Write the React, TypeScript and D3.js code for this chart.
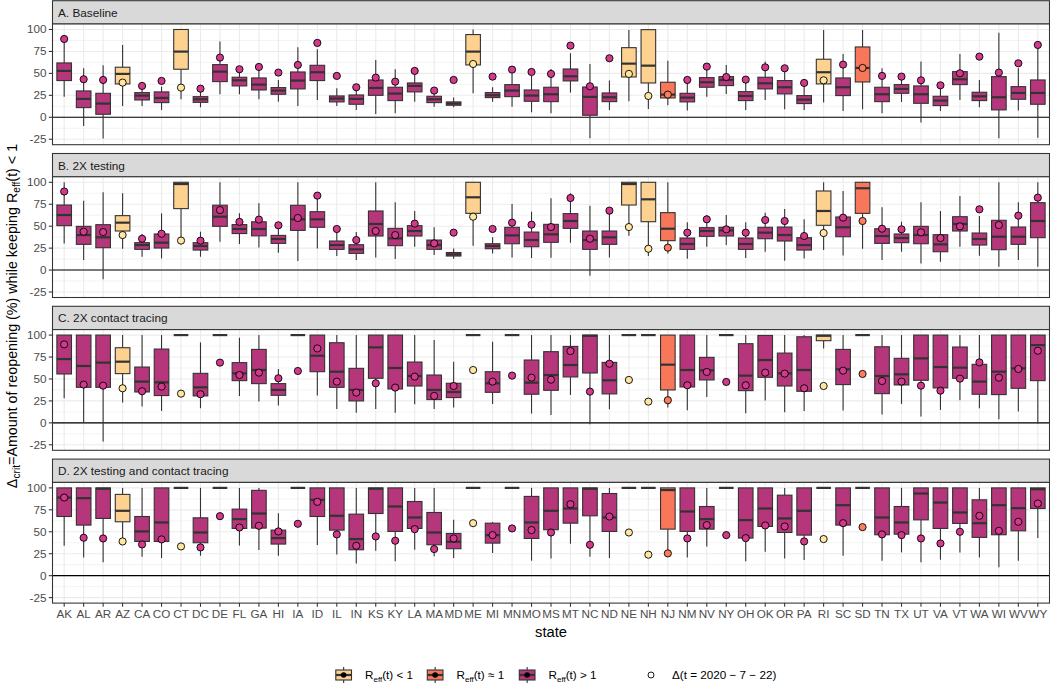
import React from "react";
import * as d3 from "d3";

const STATES = ["AK","AL","AR","AZ","CA","CO","CT","DC","DE","FL","GA","HI","IA","ID","IL","IN","KS","KY","LA","MA","MD","ME","MI","MN","MO","MS","MT","NC","ND","NE","NH","NJ","NM","NV","NY","OH","OK","OR","PA","RI","SC","SD","TN","TX","UT","VA","VT","WA","WI","WV","WY"];
const LOW_STATES = ["AZ","CT","ME","NE","NH","RI"];   // Reff(t) < 1
const NEAR_STATES = ["NJ","SD"];                        // Reff(t) ≈ 1
const PANEL_TITLES = ["A. Baseline","B. 2X testing","C. 2X contact tracing","D. 2X testing and contact tracing"];
const Y_TICKS = [-25,0,25,50,75,100];
const Y_MINOR = [-12.5,12.5,37.5,62.5,87.5];

// each row: [whisker low, q1, median, q3, whisker high, Δ(t=2020-7-22)]
const baseline = [
[23.5,41.8,52.8,61.9,88,89.2],[-9.9,11,20.9,30,55.8,43.3],[-24.3,3.4,15.6,27.3,59.2,42.5],[12.9,38,49.4,57,82.4,39.5],
[12.9,19.7,24.7,28.1,33,35.7],[8.4,16.7,22,28.9,35,41.4],[20.5,54.7,74.8,100,100,33.8],[11.4,17,20.5,23.5,29.6,32.6],
[26.2,40.6,52,60,86.2,68],[26.2,35.7,42.1,45.6,54.7,54.7],[20.5,31.1,37.2,44.8,57.7,57.3],[17.8,26.2,30.4,33.8,42.5,50.9],
[12.9,32.3,41.8,51.6,79.7,59.6],[19.7,41.8,51.3,59.2,77.4,84.7],[12.9,17.5,21.3,24.3,33,47.1],[8.4,14.8,20.9,25.4,36.8,34.2],
[3.8,25,33.4,42.5,65.3,45.2],[4.6,19,27,34.2,54.7,40.6],[17.8,28.9,35.7,39.1,52,52.8],[12.1,16.7,20.5,23.9,31.1,30.4],
[11.4,13.7,15.6,17.5,22.4,42.5],[27.3,59.6,74.8,94.2,100,60.7],[17.8,22.4,25,28.1,34.2,46.3],[12.1,23.5,30.4,37.2,50.1,54.3],
[5.7,18.2,24.7,31.1,47.1,51.6],[4.6,17.8,26.2,34.2,55,49.4],[28.1,41.4,46.7,55,72.9,81.6],[-23.9,2.3,23.2,34.5,60.7,35.3],
[8.4,17.8,22.8,27.7,41.8,67.2],[18.2,45.9,61.1,79.3,99.5,49.4],[9.5,39.1,58.8,99.8,100,24.3],[13.7,22,25.8,39.9,64.5,25.8],
[7.6,17.5,22.4,27.3,42.5,42.5],[23.5,34.2,39.9,45.2,59.6,57.7],[26.6,36.1,42.5,46.3,59.6,45.9],[8.4,19,24.3,29.2,42.5,42.9],
[19.7,32.3,38.7,45.6,63.4,56.9],[9.1,26.6,34.2,41.8,55.8,55.8],[8.4,15.6,20.1,24.7,39.5,39.1],[16.7,38,51.3,66.1,99.5,42.1],
[7.2,24.7,34.2,44.8,72.1,60],[9.1,40.2,56.2,80.1,99.5,56.2],[4.6,17.8,26.2,34.2,55.8,47.1],[17.5,27.3,32.3,37.2,48.2,46.3],
[-6.1,15.9,26.2,35.7,63.4,42.1],[7.2,13.3,19,23.9,35,36.4],[19.7,37.2,43.3,52,72.1,50.1],[11.4,19,23.9,28.5,42.5,69.1],
[-23.9,8.4,22.8,46.3,96.4,50.9],[7.6,20.5,27.7,34.9,55.8,61.5],[-23.2,14.8,27.7,42.5,82.4,82.4]];

const testing2x = [
[30.4,50.6,62.7,74.1,100,89.5],[11.4,29.3,39.9,49.8,79.1,43.7],[-10.6,25.5,37.3,51.7,88.6,43.3],[24.3,44.5,54,62,87.5,39.9],
[15.2,23.6,28.5,31.2,41.1,35.7],[13.3,25.1,31.2,41.1,64.6,41.4],[29,70,98,100,100,33.6],[15.2,22.8,27.4,31.2,43.7,33.5],
[32.3,49.8,60.8,73.9,100,68.3],[29.7,41.6,46.8,51.8,64.6,54.9],[25.8,39,46.8,55,76,57.5],[19.8,30.4,35.4,39.5,48.3,51],
[10.3,45.2,57.8,73.8,100,59.3],[24.7,48.7,57.8,66.5,87.5,84.8],[16,23.6,28.5,33.1,43.7,46.8],[11.4,19,23.6,28.9,43.3,34.2],
[14.4,38.8,52.5,67.3,100,44.5],[12.5,27.8,36.1,47.5,77.2,39.9],[26.6,38.8,44.5,50.6,67.3,52.9],[17.1,23.6,28.5,34.2,48.7,30.4],
[12.9,16,17.9,20,24.7,42.6],[27.8,64.6,82.9,100,100,60.8],[19,24.3,27.4,30,37.3,46.8],[14.4,30,39.5,48.7,75.3,54],
[13.7,26.6,34.2,43.3,66.5,51.7],[14.1,31.6,40.7,52.1,81.7,49],[31.2,47.5,55.9,64.3,87.5,82.1],[-6.5,23.6,34.2,44.5,73.4,35.7],
[14.4,29.3,37.3,44.5,67.3,67.7],[39.2,74.1,98,100,100,49],[16,55.1,80.6,100,100,24.3],[19,33.5,47.1,65.4,100,25.5],
[12.9,23.6,29.7,36.5,54.4,42.6],[26.6,38.4,44.5,48.3,62.7,57.8],[28.5,38.8,45.2,48.7,62.7,46.4],[13.7,23.6,29.7,36.5,54.4,42.6],
[20.9,35.7,42.6,48.7,65.4,57],[10.6,33.1,39.9,49,69.6,55.9],[13.3,22.8,28.5,36.9,57.8,38.8],[22.8,51,67.3,90.1,100,42.2],
[16.7,38,48.7,60.5,90.1,59.7],[24.3,64.6,93.2,100,100,55.9],[11.4,30.4,38.8,47.1,71.5,47.1],[20.9,31.2,36.5,41.1,55.1,46.4],
[7.6,30,39.9,49.8,77.2,43],[9.5,20.9,29.3,40.3,67.3,36.5],[26.6,44.5,52.5,60.8,84.4,49.8],[16.3,28.5,35.4,42.2,61.6,69.2],
[3.8,23.2,38,56.7,100,51.3],[11.4,29.3,38,49,77.2,62],[3.8,36.9,55.9,76.8,100,82.5]];

const tracing2x = [
[28,55.7,72.7,100,100,89.4],[0.8,40.5,64.8,100,100,43.6],[-21.2,40.5,68.6,100,100,42.4],[23.1,56.1,69.7,85.6,100,39.4],
[18.6,35.2,47,63.6,100,36],[13.6,31.1,46.2,84.1,100,41.3],[100,100,100,100,100,33.3],[16.7,30.7,40.5,56.4,91.7,32.6],
[100,100,100,100,100,68.6],[30.7,48.1,56.4,68.6,97,54.5],[24.2,44.7,60.2,83.7,100,57.2],[19.7,31.4,37.5,44.7,61.4,50.8],
[100,100,100,100,100,59.1],[31.1,58.3,76.5,100,100,84.8],[15.9,40.5,58.3,91.3,100,47],[11.4,25,37.5,62.1,100,34.5],
[15.9,50.8,86,100,100,45.1],[11.4,38.6,62.5,100,100,40.2],[21.2,42,53.4,69.3,100,52.7],[15.9,26.5,37.5,54.5,94.3,30.7],
[17.4,28.8,35.2,45.1,69.7,42],[100,100,100,100,100,60.2],[21.6,34.8,45.1,58.3,92.4,47],[100,100,100,100,100,53.8],
[10.6,32.6,45.8,71.6,100,51.5],[9.1,37.1,54.5,81.1,100,49.2],[31.8,52.3,65.9,87.1,100,81.8],[-1.5,56.8,99.2,100,100,35.6],
[15.5,33,48.5,68.9,100,67.4],[100,100,100,100,100,48.9],[100,100,100,100,100,24.2],[17.4,37.5,66.3,100,100,25.8],
[14.4,40.9,60.2,100,100,42.8],[29.5,48.9,59.8,74.6,100,58],[100,100,100,100,100,46.6],[11,36.7,53.8,90.2,100,42.8],
[25.4,51.9,71.6,99.6,100,57.2],[12.1,42,56.4,79.5,100,56.1],[13.6,36,60.2,98.1,100,39.4],[84.8,93.6,99.2,100,100,42],
[14,43.6,61,83.7,100,59.5],[100,100,100,100,100,55.7],[9.5,33.3,53.4,86.7,100,47.7],[21.6,43.2,55.3,73.5,100,47],
[7.2,48.5,73.5,100,100,42.4],[14.8,39.8,63.6,100,100,36.7],[25.8,50.8,62.9,86.4,100,50.4],[16.7,32.6,47,66.7,100,68.9],
[4.2,32.2,58.3,100,100,51.5],[12.9,39.4,62.1,100,100,61.4],[-0.8,48.1,88.6,100,100,82.2]];

const testingTracing2x = [
[34.1,67.4,89,100,100,89],[20.8,57.6,88.3,100,100,43.2],[15.2,65.2,99,100,100,42.4],[35.2,61.4,73.9,92.6,100,39],
[21.6,39,50.4,67.4,100,35.6],[20.1,39,60.6,100,100,41.3],[100,100,100,100,100,33.3],[22.7,37.5,49.2,65.9,100,32.2],
[100,100,100,100,100,67.8],[34.5,53.8,64.4,75.8,100,54.9],[29.2,54.2,70.8,97.2,100,56.8],[22.7,36,42.8,51.9,71.2,50.4],
[100,100,100,100,100,59.1],[34.8,67.4,86.4,100,100,84.1],[24.2,51.9,68.2,100,100,47],[14,29.5,41.7,70.1,100,34.1],
[28.4,70.8,99,100,100,44.7],[16.3,50.4,78.8,100,100,39.8],[29.5,53.8,66.3,84.5,100,53],[22,35.2,49.2,72,100,30.3],
[20.1,30.7,38.6,48.1,63.6,42.4],[100,100,100,100,100,59.8],[25.8,37.1,46.2,59.8,61,46.2],[100,100,100,100,100,53.8],
[17,42.4,60.6,90.3,100,51.9],[19.7,52.3,73.9,100,100,49.2],[36.4,59.8,76.5,100,100,81.4],[21.6,68.2,99,100,100,35.2],
[20.1,50.4,66.3,93.6,100,67.4],[100,100,100,100,100,49.2],[100,100,100,100,100,23.9],[27.3,53,97.5,100,100,25.4],
[20.8,50.4,73.1,100,100,42.4],[33.3,53,64.4,78.8,100,57.6],[100,100,100,100,100,46.2],[16.3,42.8,63.3,100,100,42.8],
[27.3,56.1,76.5,100,100,57.2],[19.7,49.2,65.2,91.7,100,56.1],[17.8,46.2,73.9,100,100,39],[100,100,100,100,100,41.7],
[22.7,57.6,80.3,100,100,59.8],[100,100,100,100,100,55.3],[17,46.6,66.3,100,100,47],[26.5,47.3,60.6,78.8,100,46.2],
[15.2,63.6,93.6,100,100,42.4],[18.2,53.8,83.3,100,100,36.7],[26.5,59.5,72,100,100,50],[20.8,43.6,59.8,86.4,100,68.2],
[9.5,46.6,80.3,100,100,51.1],[17,51.1,76.9,100,100,61.4],[42.8,76.5,98.5,100,100,82.2]];

const PANELS = [baseline, testing2x, tracing2x, testingTracing2x];

const BOX_FILL = { low: "#FDD18F", near: "#F8775B", high: "#B5367A" };
const PT_FILL = { low: "#FFE7A2", near: "#FA7E5E", high: "#D43A8C" };
const FONT = "'Liberation Sans', Arial, Helvetica, sans-serif";

function statusOf(s: string) {
  if (LOW_STATES.includes(s)) return "low";
  if (NEAR_STATES.includes(s)) return "near";
  return "high";
}

const PL = 52.5, PR = 1049.5;
const PANEL_STEP = 152.8, PLOT_TOP0 = 24, PLOT_H = 120.7, STRIP_H = 23.3;
const DARK = "#333333";

export default function App() {
  const x = d3.scalePoint<string>().domain(STATES).range([PL, PR]).padding(0.6);
  const step = x.step();
  const bw = step * 0.75;

  const panels = PANELS.map((data, pi) => {
    const top = PLOT_TOP0 + pi * PANEL_STEP;
    const y = d3.scaleLinear().domain([-31.25, 106.25]).range([top + PLOT_H, top]);
    const stripTop = top - STRIP_H;
    return (
      <g key={pi}>
        <rect x={PL} y={stripTop} width={PR - PL} height={STRIP_H} fill="#D9D9D9" stroke={DARK} strokeWidth={1.07} />
        <text x={PL + 5.5} y={stripTop + 16} fontSize={11.8} fill="#1A1A1A">{PANEL_TITLES[pi]}</text>
        <rect x={PL} y={top} width={PR - PL} height={PLOT_H} fill="#fff" />
        {Y_MINOR.map(v => <line key={"m" + v} x1={PL} x2={PR} y1={y(v)} y2={y(v)} stroke="#EBEBEB" strokeWidth={0.6} />)}
        {Y_TICKS.map(v => <line key={"M" + v} x1={PL} x2={PR} y1={y(v)} y2={y(v)} stroke="#EBEBEB" strokeWidth={1.1} />)}
        {STATES.map(s => <line key={"v" + s} x1={x(s)} x2={x(s)} y1={top} y2={top + PLOT_H} stroke="#EBEBEB" strokeWidth={1.1} />)}
        <line x1={PL} x2={PR} y1={y(0)} y2={y(0)} stroke="#000" strokeWidth={1.1} />
        {Y_TICKS.map(v => (
          <g key={"t" + v}>
            <line x1={PL - 3.7} x2={PL} y1={y(v)} y2={y(v)} stroke={DARK} strokeWidth={1.07} />
            <text x={PL - 6} y={y(v) + 4} fontSize={11.7} fill="#4D4D4D" textAnchor="end">{v}</text>
          </g>
        ))}
        {STATES.map((s, i) => {
          const [lo, q1, med, q3, hi] = data[i];
          const cx = x(s) as number;
          const st = statusOf(s);
          return (
            <g key={"b" + s}>
              <line x1={cx} x2={cx} y1={y(hi)} y2={y(q3)} stroke={DARK} strokeWidth={1.1} />
              <line x1={cx} x2={cx} y1={y(q1)} y2={y(lo)} stroke={DARK} strokeWidth={1.1} />
              <rect x={cx - bw / 2} y={y(q3)} width={bw} height={Math.max(0, y(q1) - y(q3))} fill={BOX_FILL[st]} stroke={DARK} strokeWidth={1.1} />
              <line x1={cx - bw / 2} x2={cx + bw / 2} y1={y(med)} y2={y(med)} stroke={DARK} strokeWidth={2.2} />
            </g>
          );
        })}
        {STATES.map((s, i) => {
          const cx = x(s) as number;
          return <circle key={"p" + s} cx={cx} cy={y(data[i][5])} r={3.6} fill={PT_FILL[statusOf(s)]} stroke="#000" strokeWidth={0.9} />;
        })}
        <rect x={PL} y={top} width={PR - PL} height={PLOT_H} fill="none" stroke={DARK} strokeWidth={1.07} />
      </g>
    );
  });

  const bottom = PLOT_TOP0 + 3 * PANEL_STEP + PLOT_H;
  const legendY = 675;
  const legendItems = [
    { key: "low", x: 335, label: "(t) < 1" },
    { key: "near", x: 426.5, label: "(t) \u2248 1" },
    { key: "high", x: 518.5, label: "(t) > 1" },
  ];

  return (
    <svg width={1050} height={686} style={{ position: "absolute", left: 0, top: 0, display: "block" }} fontFamily={FONT}>
      <rect width={1050} height={686} fill="#fff" />
      {panels}
      {STATES.map(s => (
        <g key={"xt" + s}>
          <line x1={x(s)} x2={x(s)} y1={bottom} y2={bottom + 3.7} stroke={DARK} strokeWidth={1.07} />
          <text x={x(s)} y={bottom + 15} fontSize={11.7} fill="#4D4D4D" textAnchor="middle">{s}</text>
        </g>
      ))}
      <text x={(PL + PR) / 2} y={637} fontSize={14.7} fill="#000" textAnchor="middle">state</text>
      <text transform={`translate(17,316) rotate(-90)`} fontSize={14.3} fill="#000" textAnchor="middle">
        <tspan>Δ</tspan><tspan fontSize={10.2} dy={3}>crit</tspan><tspan dy={-3}>=Amount of reopening (%) while keeping R</tspan><tspan fontSize={10.2} dy={3}>eff</tspan><tspan dy={-3}>(t) &lt; 1</tspan>
      </text>
      {legendItems.map(it => (
        <g key={it.key}>
          <rect x={it.x} y={legendY - 8.65} width={17.3} height={17.3} fill="#fff" />
          <line x1={it.x + 8.65} x2={it.x + 8.65} y1={legendY - 8} y2={legendY + 8} stroke={DARK} strokeWidth={1.1} />
          <rect x={it.x + 0.8} y={legendY - 5} width={15.7} height={10} fill={BOX_FILL[it.key]} stroke={DARK} strokeWidth={1.1} />
          <line x1={it.x + 0.8} x2={it.x + 16.5} y1={legendY} y2={legendY} stroke={DARK} strokeWidth={2.2} />
          <circle cx={it.x + 8.65} cy={legendY} r={2.8} fill="#000" />
          <text x={it.x + 30} y={legendY + 4.2} fontSize={11.7} fill="#000">
            <tspan>R</tspan><tspan fontSize={8} dy={2.5}>eff</tspan><tspan dy={-2.5}>{it.label}</tspan>
          </text>
        </g>
      ))}
      <circle cx={651} cy={legendY} r={3} fill="#fff" stroke="#000" strokeWidth={0.9} />
      <text x={672} y={legendY + 4.2} fontSize={11.7} fill="#000">Δ(t = 2020 − 7 − 22)</text>
    </svg>
  );
}
